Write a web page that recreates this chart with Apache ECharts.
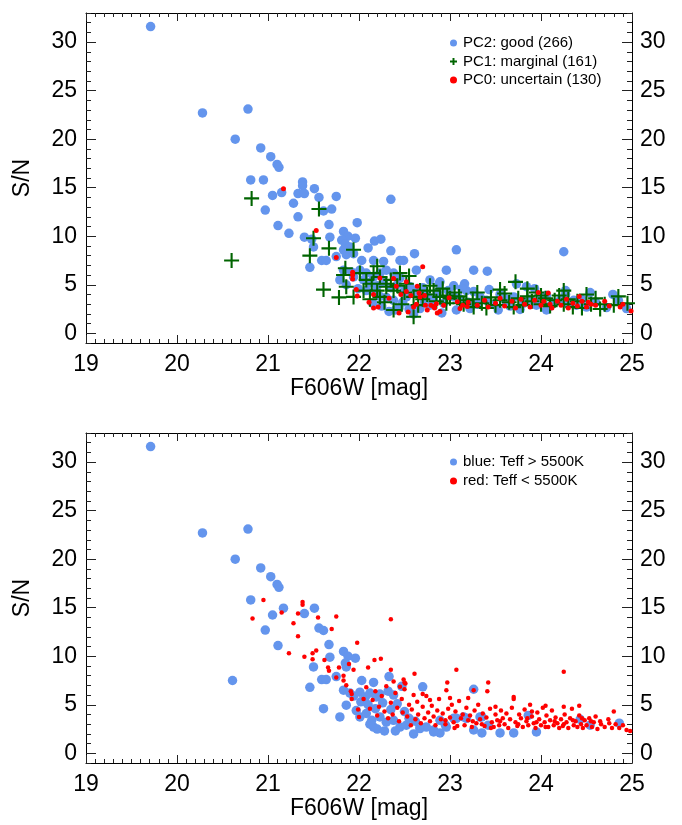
<!DOCTYPE html>
<html><head><meta charset="utf-8">
<script src="https://cdn.jsdelivr.net/npm/echarts@6/dist/echarts.min.js"></script>
<style>html,body{margin:0;padding:0;background:#fff}#c{width:682px;height:825px}</style>
</head><body><div id="c"></div>
<script>
const xRange = [19, 25];
const yRange = [-1, 33];
const yTickLabels = [0, 5, 10, 15, 20, 25, 30];
const xTitle = 'F606W [mag]';
const yTitle = 'S/N';
const namesTop = ['PC2: good (266)', 'PC1: marginal (161)', 'PC0: uncertain (130)'];
const namesBottom = ['blue: Teff > 5500K', 'red: Teff < 5500K'];

const pc2Good = [
[19.71,31.6],[20.28,22.7],[20.78,23.1],[20.64,20.0],[20.92,19.1],[21.03,18.2],[21.10,17.4],[21.12,17.1],[20.81,15.8],[20.95,15.8],[21.05,14.2],[21.15,14.5],[20.97,12.7],[21.11,11.1],[21.23,10.3],[21.28,13.4],[21.33,12.0],[21.33,14.4],[21.38,15.6],[21.38,15.2],[21.40,14.4],[21.40,9.9],[21.51,14.9],[21.56,14.0],[21.61,12.6],[21.70,12.8],[21.75,14.1],[21.67,11.2],[22.35,13.8],[21.98,11.4],
[21.83,10.5],[21.88,10.0],[21.96,9.8],[21.81,9.6],[21.85,9.2],[21.90,8.9],[21.68,9.9],[21.50,8.9],[21.48,9.7],[21.59,7.5],[21.64,7.5],[21.46,6.8],[21.75,7.9],[21.83,8.6],[21.86,8.1],[21.94,8.2],[22.03,7.5],[22.10,8.8],[22.17,9.5],[22.24,9.7],[22.16,7.5],[22.27,7.4],[22.35,8.5],[22.45,7.5],[22.49,7.5],[22.61,8.2],
[21.79,5.5],[21.86,5.0],[21.83,6.5],[21.92,6.3],[21.94,5.8],[22.01,6.5],[22.08,6.2],[22.16,5.8],[22.23,6.2],[22.30,6.5],[22.38,6.2],[22.45,5.7],[22.63,6.5],[22.78,5.5],[22.89,5.3],[22.96,6.5],[23.07,8.6],[23.26,6.5],[23.41,6.4],[24.25,8.4],
[22.08,4.4],[22.23,3.8],[22.38,3.4],[22.52,3.75],[22.67,4.1],[22.82,3.4],[22.93,3.1],[23.04,3.75],[23.18,4.4],[22.60,2.0],[22.33,2.25],[22.44,2.6],
[22.88,5.1],[23.04,4.9],[23.16,5.1],[23.13,4.6],[23.26,4.3],[23.43,4.5],[23.55,4.0],[23.73,5.1],[23.84,4.8],[23.93,4.6],[24.27,4.4],[24.27,4.0],[24.54,4.2],[24.79,4.0],[24.36,3.4],[24.06,3.9],[23.70,3.75],[23.33,3.75],[23.40,3.4],[23.62,3.2],[23.81,3.1],[23.95,2.9],[24.14,3.1],[24.21,3.4],[24.39,2.9],[24.50,2.7],[24.72,2.65],[24.94,2.55],[22.91,2.1],[23.07,2.4],[22.78,2.9],[22.67,2.55],[24.06,2.4],[23.77,2.45],[23.53,2.4],[23.22,2.55],
[22.12,5.2],[22.20,4.9],[22.27,5.3],[22.35,4.7],[22.42,5.0],[22.50,4.4],[22.56,4.8],[22.62,4.3],[22.70,4.7],[22.75,3.9],[22.86,4.2],[22.98,4.4],[23.10,3.6],[23.20,3.2],[23.30,3.0],[23.48,3.0],[23.60,3.6],[23.66,2.8],[23.88,3.5],[24.00,3.5],[24.10,2.8],[24.30,3.0],[24.45,3.5],[24.60,3.2],[24.85,3.4],[22.05,5.5],[22.18,4.2],[22.30,3.7],[22.48,3.2],[22.55,2.5],[22.72,3.2],[22.15,3.1],[22.25,2.8],[21.99,4.6],[22.40,2.4]
];

const pc1Marginal = [
[20.82,13.9],[20.60,7.5],[21.56,12.8],[21.50,9.8],[21.67,8.75],[21.46,8.0],[21.61,4.5],[21.78,3.7],[21.94,8.6],[21.85,6.7],[21.83,6.0],[22.01,6.2],[22.08,5.5],[22.16,6.2],[22.23,5.8],[22.30,4.8],[22.38,2.4],[22.45,6.2],[22.23,3.75],[22.05,4.4],[22.14,5.1],[22.60,3.75],[22.67,4.4],[22.82,4.4],[22.89,3.75],[22.96,3.1],[23.11,3.1],[23.18,3.4],[23.26,2.7],[22.30,5.1],[22.38,4.4],[22.52,5.1],[22.60,1.7],[21.94,3.75],[21.86,4.8],
[23.00,3.6],[22.75,4.0],[22.85,3.3],[23.10,3.8],[23.15,3.0],[23.25,3.5],[23.30,4.2],[23.35,3.1],[23.45,3.7],[23.50,2.9],[23.55,3.4],[23.60,4.1],[23.65,3.2],[23.72,5.3],[23.75,3.6],[23.80,2.9],[23.85,4.6],[23.90,3.3],[23.95,4.2],[24.00,3.0],[24.05,3.6],[24.10,2.8],[24.15,3.4],[24.20,3.9],[24.25,3.0],[24.30,3.5],[24.35,2.7],[24.40,3.3],[24.50,4.0],[24.55,3.0],[24.65,2.5],[24.70,3.0],[24.85,3.8],[24.95,3.1],
[22.20,6.9],[22.35,5.5],[22.42,4.9],[22.50,4.2],[22.55,5.9],[22.70,3.5],[22.78,4.9],[22.92,4.6],[23.05,4.2],[22.20,4.4],[22.12,3.5],[22.28,3.2],[22.47,3.0],[22.65,2.9],[22.97,3.9],[23.40,2.6],[23.70,2.7],[24.00,3.9],[24.45,2.6],[24.80,2.9],[23.55,4.5],[23.85,3.8],[24.25,4.4],[24.60,3.6]
];

const pc0Uncertain = [
[21.17,14.9],[21.53,10.6],[21.75,7.8],[22.70,6.85],[21.93,6.3],[21.93,6.0],[21.93,5.6],[21.97,4.5],[21.98,3.85],[22.11,3.2],[22.16,4.0],[22.16,2.6],[22.21,2.7],[22.23,5.7],[22.33,3.6],[22.38,5.65],[22.41,4.85],[22.44,2.1],[22.46,4.0],[22.52,5.3],[22.52,4.3],[22.54,2.2],[22.57,3.9],[22.60,2.7],[22.63,3.0],[22.64,4.85],[22.66,4.15],[22.67,3.75],[22.72,3.9],[22.75,2.4],[22.73,2.9],[22.82,2.75],[22.86,2.1],[22.89,2.25],[22.93,2.9],[22.99,3.65],[23.08,3.25],[23.11,2.55],[23.14,2.9],[23.19,2.75],[22.85,3.05],[22.79,2.9],[22.83,2.6],
[23.20,3.2],[23.30,2.9],[23.38,3.4],[23.42,2.7],[23.50,3.1],[23.55,3.6],[23.60,2.8],[23.68,3.3],[23.72,2.6],[23.78,3.5],[23.82,3.0],[23.88,2.7],[23.93,3.4],[23.97,4.2],[24.00,2.9],[24.03,3.3],[24.08,4.15],[24.10,3.0],[24.12,2.6],[24.18,3.3],[24.22,2.9],[24.28,3.5],[24.30,2.6],[24.35,3.1],[24.40,2.8],[24.42,3.8],[24.45,3.3],[24.50,2.7],[24.52,3.2],[24.55,3.0],[24.60,2.9],[24.70,3.3],[24.75,2.8],[24.87,2.7],[24.90,3.0],[24.99,2.3]
];

const hotStars = [
[19.71,31.6],[20.28,22.7],[20.78,23.1],[20.64,20.0],[20.92,19.1],[21.03,18.2],[21.10,17.4],[21.12,17.1],[20.81,15.8],[21.17,14.95],[21.05,14.25],[20.97,12.7],[21.11,11.1],[20.61,7.5],[21.40,14.4],[21.51,14.95],[21.56,12.9],[21.61,12.65],[21.67,11.2],[21.68,9.9],[21.50,8.9],[21.59,7.6],[21.64,7.6],[21.46,6.8],[21.61,4.6],[21.75,7.9],[21.83,10.5],[21.88,10.0],[21.96,9.8],[21.85,9.3],[21.86,8.9],[21.79,3.75],[22.03,7.5],[22.16,7.3],[22.33,7.9],[22.47,6.9],[22.70,6.85],
[21.83,6.5],[21.90,6.2],[21.94,5.9],[22.01,6.3],[22.07,5.8],[22.12,6.2],[22.19,5.8],[22.23,6.1],[22.32,6.4],[22.38,6.0],
[21.86,4.96],[21.97,4.4],[22.01,3.75],[22.08,4.1],[22.14,3.4],[22.16,2.7],[22.23,3.75],[22.30,3.2],[22.38,3.4],[22.45,2.7],[22.52,2.9],[22.60,2.0],[22.67,2.7],[22.74,2.7],[22.82,2.4],[22.89,2.1],[22.96,2.7],[23.07,3.6],[23.15,3.75],[23.26,2.4],[23.33,3.75],
[23.26,6.6],[23.86,3.9],[24.43,3.5],[24.86,3.1],[24.54,2.9],[23.95,2.2],[23.70,2.1],[23.55,2.1],[23.35,2.1],[23.04,3.6],[22.89,3.4],[22.82,2.2],[22.67,2.55],[23.18,3.6],[23.35,3.75],[23.42,2.9],[22.95,2.9],
[22.10,5.0],[22.18,4.6],[22.26,5.2],[22.35,4.5],[22.42,5.1],[22.50,4.3],[22.55,3.6],[22.62,3.3],[22.20,2.5],[22.28,2.3],[22.40,2.3],[22.12,3.0],[22.02,5.3]
];

const coolStars = [
[20.83,13.9],[20.95,15.8],[21.15,14.5],[21.28,13.4],[21.33,12.05],[21.23,10.3],[21.38,15.6],[21.38,15.3],[21.33,14.4],[21.40,9.95],[21.49,10.3],[21.53,10.6],[21.55,14.0],[21.70,12.8],[21.75,14.1],[21.98,11.4],[21.49,9.7],[21.62,9.6],[21.66,8.85],[21.67,8.5],[21.78,8.85],[21.83,8.0],[21.83,7.5],[21.89,9.2],[21.94,8.6],[21.75,7.8],[21.86,7.0],[21.91,6.4],[21.92,6.1],[21.92,5.6],[21.99,4.5],[22.00,3.75],[22.10,8.85],[22.17,9.6],[22.24,9.75],[22.35,13.8],[22.35,8.6],[22.38,7.4],[22.49,7.6],[22.51,7.2],[22.45,6.85],[22.61,8.2],[22.78,5.5],[22.96,6.5],[23.07,8.6],[23.26,6.5],[23.41,6.4],[24.25,8.4],
[22.05,5.6],[22.08,6.8],[22.12,4.6],[22.15,5.5],[22.18,6.4],[22.20,3.9],[22.22,4.8],[22.25,5.9],[22.28,4.3],[22.30,6.9],[22.32,3.6],[22.35,5.2],[22.37,4.0],[22.40,6.2],[22.42,4.7],[22.44,3.3],[22.47,5.6],[22.48,4.2],[22.50,7.3],[22.53,3.8],[22.55,5.0],[22.57,2.9],[22.58,4.5],[22.60,6.0],[22.62,3.5],[22.64,5.3],[22.65,4.0],[22.68,3.1],[22.70,4.8],[22.72,3.6],[22.74,5.9],[22.76,4.2],[22.78,3.3],[22.80,4.9],[22.82,3.8],[22.84,2.9],[22.86,4.4],[22.88,5.6],[22.90,3.5],[22.92,4.1],[22.95,3.0],[22.97,7.3],[22.98,4.6],[23.00,3.7],[23.02,5.0],[23.04,3.2],[23.06,4.3],[23.08,2.8],[23.10,5.4],[23.12,3.6],[23.14,4.0],[23.16,2.9],[23.18,4.7],[23.20,3.4],[23.22,3.9],[23.24,2.7],[23.27,4.4],[23.29,3.1],[23.31,5.0],[23.33,3.5],[23.36,4.1],[23.38,2.8],[23.40,3.7],[23.42,7.3],[23.44,4.6],[23.46,3.2],[23.48,2.7],[23.50,4.0],[23.52,3.4],[23.54,2.9],[23.56,4.4],[23.58,3.6],[23.60,3.0],[23.62,4.1],[23.64,2.6],[23.66,3.5],[23.68,4.7],[23.70,5.6],[23.72,3.2],[23.74,2.8],[23.76,4.0],[23.78,3.6],[23.80,2.7],[23.82,4.5],[23.84,3.3],[23.86,2.9],[23.88,5.0],[23.90,3.8],[23.92,3.1],[23.94,2.6],[23.96,4.2],[23.98,3.5],[24.00,2.9],[24.02,4.7],[24.04,3.2],[24.06,3.9],[24.08,2.7],[24.10,3.4],[24.12,4.4],[24.14,2.9],[24.16,3.7],[24.18,3.1],[24.20,2.6],[24.22,3.5],[24.24,2.8],[24.26,4.0],[24.28,3.2],[24.30,2.6],[24.32,3.6],[24.34,4.6],[24.36,2.9],[24.38,3.3],[24.40,2.7],[24.42,3.9],[24.44,3.0],[24.46,2.6],[24.48,3.4],[24.50,2.9],[24.53,3.6],[24.56,2.7],[24.58,3.2],[24.62,2.5],[24.66,3.0],[24.70,2.7],[24.74,3.5],[24.78,2.6],[24.82,3.0],[24.86,2.6],[24.90,2.9],[24.94,2.4],[24.98,2.3],
[23.50,4.8],[23.90,4.3],[23.70,5.8],[24.05,4.9],[24.42,4.9],[24.80,4.3],[24.25,4.8],[24.60,3.8],[22.50,6.6],[22.70,6.1],[23.20,5.7],[23.00,5.7],
[23.05,2.6],[23.35,3.0],[23.55,3.3],[23.75,3.0],[23.95,3.2],[24.15,3.3],[24.35,3.4],[24.55,3.3],[24.75,3.1],[22.95,3.4],[23.25,3.3],[23.45,2.6],[23.85,3.6],[24.05,2.7],[24.25,3.0],[24.45,3.6],[24.65,3.3]
];

const FONT = '"Liberation Sans", Arial, Helvetica, sans-serif';
const PLUS = 'path://M0,4.3H10V5.7H0Z M4.3,0H5.7V10H4.3Z';
const PLUS_ICON = 'path://M0,3.6H10V6.4H0Z M3.6,0H6.4V10H3.6Z';
const BLUE = '#6495ED', GREEN = '#006400', RED = '#FF0000';
const LINE = {color: '#000', width: 1};
const TICK = {color: '#222', width: 1};

function xAxesFor(g) {
  const base = {
    gridIndex: g, type: 'value', min: xRange[0], max: xRange[1], interval: 1,
    axisLine: {show: true, onZero: false, lineStyle: LINE},
    axisTick: {show: true, inside: true, length: 8, lineStyle: TICK},
    minorTick: {show: true, splitNumber: 10, length: 4, lineStyle: TICK},
    splitLine: {show: false}, minorSplitLine: {show: false}
  };
  return [
    Object.assign({}, base, {position: 'bottom',
      axisLabel: {show: true, fontSize: 23, fontFamily: FONT, color: '#000', margin: 10},
      name: xTitle, nameLocation: 'middle', nameGap: 31,
      nameTextStyle: {fontSize: 23, fontFamily: FONT, color: '#000'}}),
    Object.assign({}, base, {position: 'top', axisLabel: {show: false}})
  ];
}
function yAxesFor(g) {
  const base = {gridIndex: g, type: 'value', min: yRange[0], max: yRange[1], interval: 1,
    splitLine: {show: false}};
  const major = side => Object.assign({}, base, {position: side,
    axisLine: {show: true, onZero: false, lineStyle: LINE},
    axisTick: {show: true, inside: true, length: 10, lineStyle: TICK, customValues: yTickLabels},
    axisLabel: {show: true, customValues: yTickLabels, fontSize: 23, fontFamily: FONT, color: '#000', margin: side === 'left' ? 9 : 8}
  });
  const minor = side => Object.assign({}, base, {position: side,
    axisLine: {show: false, onZero: false},
    axisTick: {show: true, inside: true, length: 5, lineStyle: TICK},
    axisLabel: {show: false}
  });
  const left = major('left');
  left.name = yTitle; left.nameLocation = 'middle'; left.nameGap = 52; left.nameRotate = 90;
  left.nameTextStyle = {fontSize: 23, fontFamily: FONT, color: '#000'};
  return [left, minor('left'), major('right'), minor('right')];
}

const chart = echarts.init(document.getElementById('c'), null, {renderer: 'canvas'});
const sc = (name, data, xi, yi, symbol, size, color, z) => ({
  name, type: 'scatter', data, xAxisIndex: xi, yAxisIndex: yi, symbol, symbolSize: size,
  itemStyle: {color, opacity: 1}, emphasis: {disabled: true}, z, silent: true
});
const legendText = {fontSize: 15, fontFamily: FONT, color: '#000', lineHeight: 18, padding: [0, 0, 0, 1]};
chart.setOption({
  animation: false,
  backgroundColor: '#fff',
  grid: [
    {left: 86, top: 13, width: 546, height: 330},
    {left: 86, top: 433, width: 546, height: 330}
  ],
  xAxis: xAxesFor(0).concat(xAxesFor(1)),
  yAxis: yAxesFor(0).concat(yAxesFor(1)),
  legend: [
    {orient: 'vertical', left: 445, top: 29, itemWidth: 7, itemHeight: 7, itemGap: 0.5, selectedMode: false,
      textStyle: legendText,
      data: [{name: namesTop[0], icon: 'circle'},
             {name: namesTop[1], icon: PLUS_ICON, itemStyle: {color: GREEN}},
             {name: namesTop[2], icon: 'circle'}]},
    {orient: 'vertical', left: 445, top: 448, itemWidth: 7, itemHeight: 7, itemGap: 1, selectedMode: false,
      textStyle: legendText,
      data: [{name: namesBottom[0], icon: 'circle'}, {name: namesBottom[1], icon: 'circle'}]}
  ],
  series: [
    sc(namesTop[0], pc2Good, 0, 0, 'circle', 9.5, BLUE, 2),
    sc(namesTop[1], pc1Marginal, 0, 0, PLUS, 15, GREEN, 3),
    sc(namesTop[2], pc0Uncertain, 0, 0, 'circle', 5, RED, 4),
    sc(namesBottom[0], hotStars, 2, 4, 'circle', 9.5, BLUE, 2),
    sc(namesBottom[1], coolStars, 2, 4, 'circle', 4.5, RED, 3)
  ]
});
</script></body></html>
